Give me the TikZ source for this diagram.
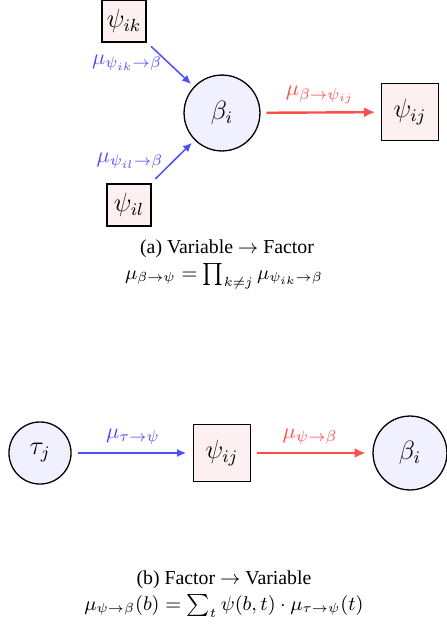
\documentclass[tikz,border=0pt]{standalone}
\usepackage{fontspec}
\setmainfont{Liberation Serif}
\usetikzlibrary{arrows.meta}
\definecolor{msgblue}{RGB}{77,77,255}
\definecolor{msgred}{RGB}{255,77,77}
\definecolor{varfill}{RGB}{240,240,255}
\definecolor{facfill}{RGB}{253,240,240}
\begin{document}
\begin{tikzpicture}[x=1pt,y=-1pt,
  sc/.style={scale=2.2,transform shape},
  varnode/.style={sc,circle,draw=black,line width=1.3pt,fill=varfill,inner sep=0pt,font=\large},
  facnode/.style={sc,rectangle,draw=black,line width=1.3pt,fill=facfill,inner sep=0pt,font=\large},
  bluemsg/.style={draw=msgblue,line width=1.5pt,-{Latex[length=9pt,width=8pt]}},
  redmsg/.style={draw=msgred,line width=2.4pt,-{Latex[length=11pt,width=10pt]}},
  bluelabel/.style={sc,text=msgblue,font=\normalsize,inner sep=0pt},
  redlabel/.style={sc,text=msgred,font=\normalsize,inner sep=0pt},
  captext/.style={sc,font=\small,inner sep=0pt}]
\useasboundingbox (0,0) rectangle (447,627);
% (a)
\node[varnode,minimum size=34.5pt] (betaA) at (222,113) {$\beta_i$};
\node[facnode,minimum width=20pt,minimum height=19.2pt] (psiik) at (124,21) {$\psi_{ik}$};
\node[facnode,minimum width=20pt,minimum height=19.2pt] (psiil) at (129,205) {$\psi_{il}$};
\node[facnode,minimum size=25.9pt] (psiijA) at (410,112) {$\psi_{ij}$};
\draw[bluemsg,shorten <=5pt,shorten >=3pt] (psiik) -- (betaA);
\draw[bluemsg,shorten <=5pt,shorten >=3pt] (psiil) -- (betaA);
\draw[redmsg,shorten <=5pt,shorten >=5pt] (betaA) -- (psiijA);
\node[bluelabel] (lik) at (127,63) {$\mu_{\psi_{ik}\to\beta}$};
\node[bluelabel] (lil) at (130,161) {$\mu_{\psi_{il}\to\beta}$};
\node[redlabel] (lbij) at (320,95) {$\mu_{\beta\to\psi_{ij}}$};
\node[captext] (capa) at (227,249) {(a) Variable $\to$ Factor};
\node[captext] (forma) at (224,276) {$\mu_{\beta\to\psi}=\prod_{k\neq j}\mu_{\psi_{ik}\to\beta}$};
% (b)
\node[varnode,minimum size=28.2pt] (tau) at (40,453) {$\tau_j$};
\node[facnode,minimum size=25.9pt] (psiijB) at (222,453) {$\psi_{ij}$};
\node[varnode,minimum size=33.6pt] (betaB) at (410,453) {$\beta_i$};
\draw[bluemsg,shorten <=6pt,shorten >=6pt] (tau) -- (psiijB);
\draw[redmsg,shorten <=5pt,shorten >=6pt] (psiijB) -- (betaB);
\node[bluelabel] (ltau) at (133,437) {$\mu_{\tau\to\psi}$};
\node[redlabel] (lpsi) at (310,437) {$\mu_{\psi\to\beta}$};
\node[captext] (capb) at (224,580) {(b) Factor $\to$ Variable};
\node[captext] (formb) at (224,606) {$\mu_{\psi\to\beta}(b)=\sum_t\psi(b,t)\cdot\mu_{\tau\to\psi}(t)$};
\end{tikzpicture}
\end{document}
